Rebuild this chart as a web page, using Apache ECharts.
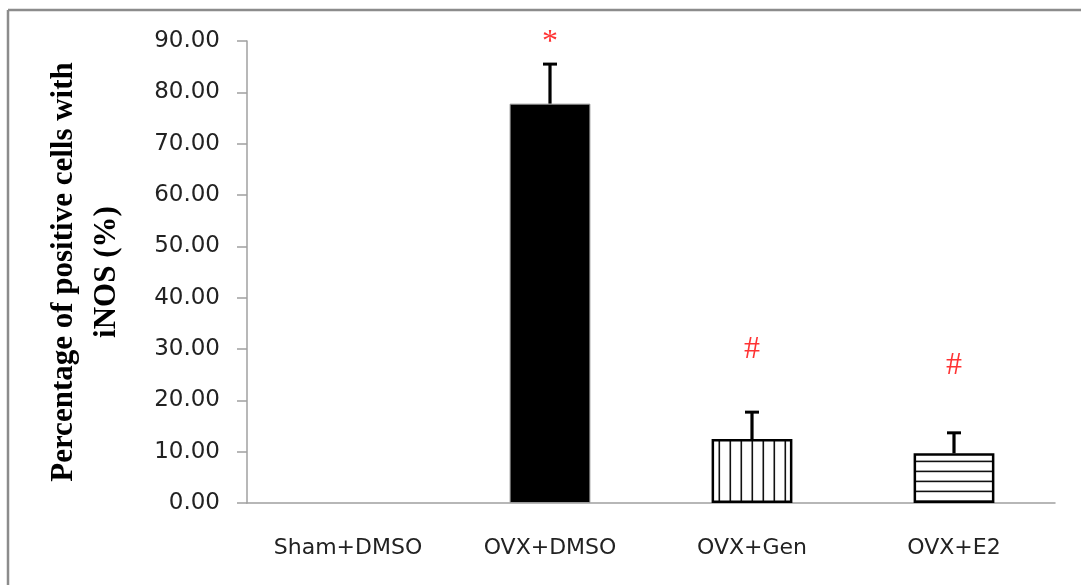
<!DOCTYPE html>
<html>
<head>
<meta charset="utf-8">
<script src="https://cdn.jsdelivr.net/npm/echarts@6/dist/echarts.min.js"></script>
<style>
  html, body { margin: 0; padding: 0; background: #fff; }
  #chart { width: 1081px; height: 585px; }
</style>
</head>
<body>
<div id="chart"></div>
<script>
// Groups and measured values (mean ± error, %)
const categories = ['Sham+DMSO', 'OVX+DMSO', 'OVX+Gen', 'OVX+E2'];
const means = [0, 77.8, 12.45, 9.67];
const errors = [0, 7.7, 5.25, 4.0];
// Significance marks and the height they sit at
const marks = ['', '*', '#', '#'];
const markHeights = [null, 89.6, 29.8, 26.8];
const yTicks = { min: 0, max: 90, interval: 10 };

// Hatch fills for the treated groups
function stripeTile(vertical) {
  const c = document.createElement('canvas');
  const size = vertical ? 11 : 10;
  c.width = size; c.height = size;
  const g = c.getContext('2d');
  g.fillStyle = '#fff';
  g.fillRect(0, 0, size, size);
  g.fillStyle = '#111';
  if (vertical) g.fillRect(3.5, 0, 1.6, size);
  else g.fillRect(0, 0.6, size, 1.6);
  return c;
}
const fills = [
  { color: '#fff', borderColor: '#000', borderWidth: 0 },
  { color: '#000', borderColor: '#9a9a9a', borderWidth: 1 },
  { color: { image: stripeTile(true), repeat: 'repeat' }, borderColor: '#000', borderWidth: 2.5 },
  { color: { image: stripeTile(false), repeat: 'repeat' }, borderColor: '#000', borderWidth: 2.5 }
];

const barData = means.map((v, i) => ({
  value: v,
  itemStyle: v === 0 ? { color: 'transparent', borderWidth: 0 } : fills[i]
}));
const errData = means.map((v, i) => [i, v, v + errors[i]]);
const markData = markHeights.map((h, i) => ({ value: [i, h], label: { formatter: marks[i] } }));

const chart = echarts.init(document.getElementById('chart'), null, { renderer: 'canvas' });
chart.setOption({
  animation: false,
  backgroundColor: '#fff',
  grid: { left: 247, right: 26, top: 41, bottom: 82 },
  xAxis: {
    type: 'category',
    data: categories,
    axisLine: { lineStyle: { color: '#a0a0a0', width: 1.5 } },
    axisTick: { length: 10, lineStyle: { color: '#a0a0a0', width: 1.5 } },
    axisLabel: { margin: 34, color: '#222', fontFamily: 'DejaVu Sans', fontSize: 22 }
  },
  yAxis: {
    type: 'value',
    min: yTicks.min, max: yTicks.max, interval: yTicks.interval,
    name: 'Percentage of positive cells with\niNOS (%)',
    nameLocation: 'middle',
    nameRotate: 90,
    nameGap: 119,
    nameTextStyle: {
      fontFamily: 'Liberation Serif', fontWeight: 'bold', fontSize: 31,
      color: '#000', lineHeight: 43, align: 'center'
    },
    splitLine: { show: false },
    axisLine: { show: true, lineStyle: { color: '#a0a0a0', width: 1.5 } },
    axisTick: { show: true, length: 10, lineStyle: { color: '#a0a0a0', width: 1.5 } },
    axisLabel: {
      margin: 27, color: '#222', fontFamily: 'DejaVu Sans', fontSize: 23,
      formatter: v => v.toFixed(2)
    }
  },
  series: [
    {
      type: 'bar',
      data: barData,
      barWidth: '40%',
      z: 2
    },
    {
      // upward error bars with a cap
      type: 'custom',
      data: errData,
      z: 3,
      renderItem: (params, api) => {
        const i = api.value(0);
        if (api.value(2) === api.value(1)) return null;
        const base = api.coord([i, api.value(1)]);
        const top = api.coord([i, api.value(2)]);
        return {
          type: 'group',
          children: [
            { type: 'line', shape: { x1: base[0], y1: base[1], x2: top[0], y2: top[1] },
              style: { stroke: '#000', lineWidth: 3.2 } },
            { type: 'line', shape: { x1: top[0] - 7, y1: top[1], x2: top[0] + 7, y2: top[1] },
              style: { stroke: '#000', lineWidth: 3 } }
          ]
        };
      }
    },
    {
      type: 'scatter',
      data: markData,
      symbolSize: 0,
      clip: false,
      z: 4,
      label: {
        show: true, position: 'inside', color: '#ff0000',
        fontFamily: 'Liberation Serif', fontSize: 32
      }
    }
  ],
  graphic: [
    { type: 'line', shape: { x1: 8, y1: 10, x2: 1081, y2: 10 }, style: { stroke: '#8c8c8c', lineWidth: 2.5 } },
    { type: 'line', shape: { x1: 8, y1: 10, x2: 8, y2: 585 }, style: { stroke: '#8c8c8c', lineWidth: 2.5 } }
  ]
});
</script>
</body>
</html>
